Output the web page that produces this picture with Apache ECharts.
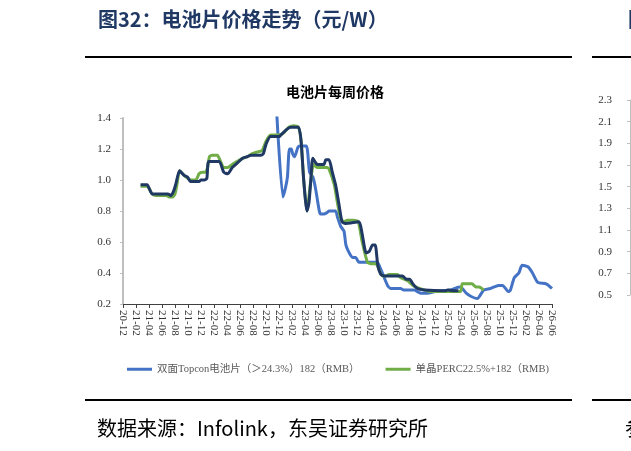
<!DOCTYPE html>
<html>
<head>
	<meta charset="utf-8">
	<title>电池片价格走势</title>
	<script src="https://cdn.jsdelivr.net/npm/echarts@6/dist/echarts.min.js"></script>
	<style>
		html, body { margin: 0; padding: 0; background: #fff; }
		#main { width: 631px; height: 451px; }
	</style>
</head>
<body>
	<div id="main"></div>
	<script type="text/javascript">
		// x = months since 2020-12
		var xLabels = ['20-12', '21-02', '21-04', '21-06', '21-08', '21-10', '21-12', '22-02', '22-04', '22-06', '22-08', '22-10',
			'22-12', '23-02', '23-04', '23-06', '23-08', '23-10', '23-12', '24-02', '24-04', '24-06', '24-08', '24-10',
			'24-12', '25-02', '25-04', '25-06', '25-08', '25-10', '25-12', '26-02', '26-04', '26-06'];
		var rightYLabels = ['0.5', '0.7', '0.9', '1.1', '1.3', '1.5', '1.7', '1.9', '2.1', '2.3'];

		var topconName = '双面Topcon电池片（＞24.3%）182（RMB）';
		var percName = '单晶PERC22.5%+182（RMB)';
		var darkName = '单晶PERC182（RMB）';

		var topcon = [[23.5, 1.55], [24.6, 0.89], [25.0, 0.95], [25.3, 1.02], [25.6, 1.20], [25.9, 1.20], [26.1, 1.17], [26.4, 1.15],
			[26.9, 1.21], [27.2, 1.22], [28.2, 1.22], [28.7, 1.05], [29.2, 1.02], [29.6, 0.95], [30.2, 0.80], [30.4, 0.78],
			[30.9, 0.78], [31.4, 0.79], [31.7, 0.80], [32.7, 0.80], [33.0, 0.76], [33.5, 0.70], [34.0, 0.67], [34.3, 0.58],
			[34.8, 0.53], [35.3, 0.50], [35.8, 0.50], [36.1, 0.48], [36.3, 0.47], [39.1, 0.47], [39.5, 0.44], [40.0, 0.39],
			[40.7, 0.32], [41.2, 0.30], [42.7, 0.30], [43.2, 0.29], [44.8, 0.29], [45.8, 0.27], [46.8, 0.27], [48.0, 0.28],
			[49.5, 0.285], [50.4, 0.29], [51.7, 0.31], [52.2, 0.30], [52.8, 0.27], [53.5, 0.25], [54.5, 0.235], [55.5, 0.29],
			[56.5, 0.30], [57.8, 0.32], [58.4, 0.32], [59.3, 0.28], [59.6, 0.29], [60.2, 0.37], [60.9, 0.40], [61.4, 0.45],
			[62.3, 0.44], [63.0, 0.40], [63.8, 0.34], [65.1, 0.33], [66.0, 0.30]];

		var perc = [[2.7, 0.96], [3.7, 0.96], [4.5, 0.91], [5.1, 0.90], [6.7, 0.90], [7.1, 0.89], [7.6, 0.89], [8.0, 0.91],
			[8.3, 0.97], [8.7, 1.06], [9.4, 1.03], [10.0, 1.01], [10.4, 1.00], [11.2, 1.00], [11.7, 1.04], [12.2, 1.05],
			[12.7, 1.05], [13.0, 1.08], [13.3, 1.15], [13.7, 1.16], [14.5, 1.16], [15.0, 1.12], [15.5, 1.08], [16.1, 1.08],
			[16.8, 1.10], [17.6, 1.12], [18.4, 1.14], [19.1, 1.15], [19.9, 1.17], [20.6, 1.18], [21.4, 1.19], [22.0, 1.25],
			[22.7, 1.29], [23.8, 1.29], [24.6, 1.30], [25.5, 1.34], [26.3, 1.35], [27.0, 1.34], [27.4, 1.25], [27.8, 1.00],
			[28.3, 0.80], [28.9, 1.00], [29.3, 1.10], [29.9, 1.08], [31.4, 1.08], [31.7, 1.07], [32.5, 0.97], [33.0, 0.85],
			[33.5, 0.75], [34.0, 0.73], [34.5, 0.74], [35.5, 0.74], [36.2, 0.73], [36.8, 0.60], [37.6, 0.47], [38.1, 0.46],
			[38.9, 0.46], [39.9, 0.38], [40.4, 0.38], [40.9, 0.39], [42.2, 0.39], [42.7, 0.37], [43.8, 0.35], [44.6, 0.32],
			[45.6, 0.30], [46.4, 0.29], [47.3, 0.28], [51.9, 0.28], [52.2, 0.33], [53.7, 0.33], [54.3, 0.31], [54.8, 0.31],
			[55.5, 0.29]];

		var dark = [[2.7, 0.97], [3.7, 0.97], [4.5, 0.91], [6.9, 0.91], [7.4, 0.90], [7.8, 0.93], [8.1, 0.97], [8.7, 1.06],
			[9.4, 1.03], [9.9, 1.02], [10.4, 0.99], [11.7, 0.99], [12.0, 1.00], [12.5, 1.00], [12.9, 1.01], [13.2, 1.12],
			[14.8, 1.12], [15.5, 1.05], [16.1, 1.04], [16.8, 1.08], [17.6, 1.11], [18.4, 1.14], [19.1, 1.15], [19.7, 1.16],
			[21.2, 1.16], [21.6, 1.17], [22.0, 1.23], [22.7, 1.28], [24.0, 1.28], [24.5, 1.30], [25.3, 1.33], [25.8, 1.34],
			[27.0, 1.34], [27.4, 1.25], [27.8, 1.00], [28.3, 0.80], [28.6, 0.85], [28.9, 1.00], [29.2, 1.14], [29.9, 1.10],
			[30.9, 1.10], [31.2, 1.13], [31.7, 1.13], [32.2, 1.05], [32.7, 0.97], [33.2, 0.85], [33.7, 0.73], [34.2, 0.72],
			[36.3, 0.73], [36.8, 0.65], [37.4, 0.53], [37.9, 0.54], [38.4, 0.58], [38.8, 0.58], [39.2, 0.45], [39.7, 0.39],
			[40.4, 0.38], [43.0, 0.38], [43.6, 0.36], [44.1, 0.36], [44.6, 0.33], [45.3, 0.30], [46.4, 0.29], [49.4, 0.285],
			[50.0, 0.29], [51.0, 0.285], [51.6, 0.285]];

		var serif = '"Liberation Serif", "Noto Sans CJK SC", serif';
		var myChart = echarts.init(document.getElementById('main'), null, { renderer: 'canvas' });

		myChart.setOption({
			animation: false,
			backgroundColor: '#fff',
			graphic: [
				{ type: 'text', left: 98, top: 9, style: { text: '图32：电池片价格走势（元/W）', font: 'bold 20px "Noto Sans CJK SC"', fill: '#1f3864' } },
				{ type: 'text', left: 628, top: 9, style: { text: '图33：', font: 'bold 20px "Noto Sans CJK SC"', fill: '#1f3864' } },
				{ type: 'line', shape: { x1: 85, y1: 57, x2: 572, y2: 57 }, style: { stroke: '#000', lineWidth: 2 } },
				{ type: 'line', shape: { x1: 592, y1: 57, x2: 631, y2: 57 }, style: { stroke: '#000', lineWidth: 2 } },
				{ type: 'line', shape: { x1: 85, y1: 400, x2: 572, y2: 400 }, style: { stroke: '#000', lineWidth: 2 } },
				{ type: 'line', shape: { x1: 592, y1: 400, x2: 631, y2: 400 }, style: { stroke: '#000', lineWidth: 2 } },
				{ type: 'text', x: 335, y: 92, style: { text: '电池片每周价格', font: 'bold 14px "Noto Sans CJK SC"', fill: '#000', textAlign: 'center', textVerticalAlign: 'middle' } },
				{ type: 'text', left: 97, top: 418, style: { text: '数据来源：Infolink，东吴证券研究所', font: '20px "Noto Sans CJK SC"', fill: '#000' } },
				{ type: 'text', left: 625, top: 418, style: { text: '参考', font: '20px "Noto Sans CJK SC"', fill: '#000' } }
			],
			legend: {
				left: 122,
				top: 359,
				itemWidth: 25,
				itemHeight: 3,
				itemGap: 26,
				icon: 'rect',
				data: [topconName, percName],
				textStyle: { fontFamily: serif, fontSize: 10.5, color: '#595959' }
			},
			grid: [
				{ left: 123, top: 118, width: 429, height: 186 },
				{ left: 630, top: 100, width: 30, height: 195 }
			],
			xAxis: [{
				type: 'value',
				gridIndex: 0,
				min: 0,
				max: 66,
				interval: 2,
				splitLine: { show: false },
				axisLine: { lineStyle: { color: '#404040', width: 1 } },
				axisTick: { length: 4, lineStyle: { color: '#404040' } },
				axisLabel: {
					rotate: -90,
					margin: 6,
					fontFamily: serif,
					fontSize: 11,
					color: '#333',
					formatter: function (v) { return xLabels[Math.round(v / 2)]; }
				}
			}, {
				type: 'value',
				gridIndex: 1,
				show: false
			}],
			yAxis: [{
				type: 'value',
				gridIndex: 0,
				min: 0.2,
				max: 1.4,
				interval: 0.2,
				splitLine: { show: false },
				axisLine: { show: true, lineStyle: { color: '#bfbfbf', width: 2 } },
				axisTick: { show: true, length: 3, lineStyle: { color: '#bfbfbf' } },
				axisLabel: {
					margin: 12,
					fontFamily: serif,
					fontSize: 11,
					color: '#333',
					formatter: function (v) { return v.toFixed(1); }
				}
			}, {
				type: 'category',
				gridIndex: 1,
				data: rightYLabels,
				boundaryGap: false,
				axisLine: { show: true, lineStyle: { color: '#bfbfbf' } },
				axisTick: { show: true, length: 3, lineStyle: { color: '#bfbfbf' } },
				axisLabel: { margin: 18, fontFamily: serif, fontSize: 11, color: '#333' }
			}],
			series: [{
				name: topconName,
				type: 'line',
				data: topcon,
				showSymbol: false,
				smooth: 0.2,
				clip: true,
				lineStyle: { color: '#4472c4', width: 3 },
				itemStyle: { color: '#4472c4' }
			}, {
				name: percName,
				type: 'line',
				data: perc,
				showSymbol: false,
				smooth: 0.2,
				lineStyle: { color: '#70ad47', width: 3 },
				itemStyle: { color: '#70ad47' }
			}, {
				name: darkName,
				type: 'line',
				data: dark,
				showSymbol: false,
				smooth: 0.2,
				lineStyle: { color: '#203864', width: 3 },
				itemStyle: { color: '#203864' }
			}]
		});
	</script>
</body>
</html>
